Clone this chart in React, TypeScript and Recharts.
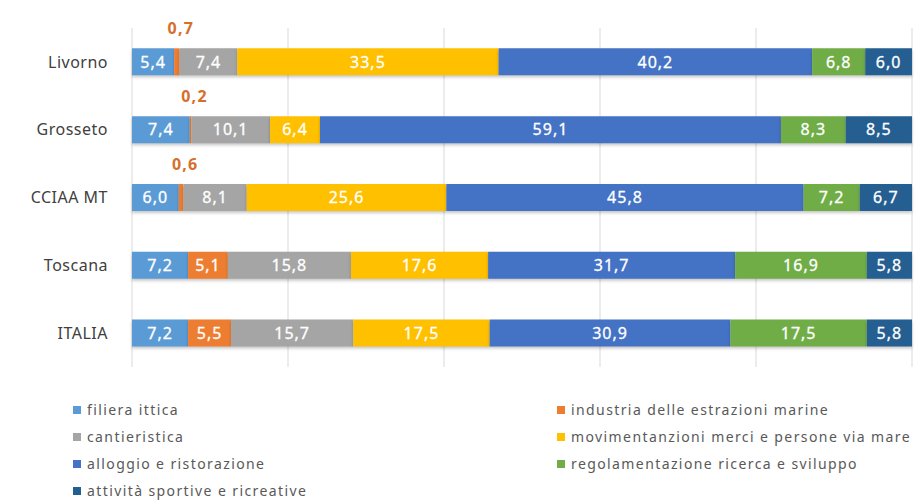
import React from 'react';
import { BarChart, Bar, XAxis, YAxis, CartesianGrid, LabelList } from 'recharts';

const categories = ['Livorno', 'Grosseto', 'CCIAA MT', 'Toscana', 'ITALIA'];
const filieraIttica = [5.4, 7.4, 6.0, 7.2, 7.2];
const industriaEstrazioni = [0.7, 0.2, 0.6, 5.1, 5.5];
const cantieristica = [7.4, 10.1, 8.1, 15.8, 15.7];
const movimentazioni = [33.5, 6.4, 25.6, 17.6, 17.5];
const alloggio = [40.2, 59.1, 45.8, 31.7, 30.9];
const regolamentazione = [6.8, 8.3, 7.2, 16.9, 17.5];
const attivita = [6.0, 8.5, 6.7, 5.8, 5.8];
const xTicks = [0, 0.2, 0.4, 0.6, 0.8, 1];

const series = [
  { key: 'filiera', name: 'filiera ittica', color: '#5B9BD5', values: filieraIttica },
  { key: 'industria', name: 'industria delle estrazioni marine', color: '#ED7D31', values: industriaEstrazioni },
  { key: 'cantieristica', name: 'cantieristica', color: '#A5A5A5', values: cantieristica },
  { key: 'movimentazioni', name: 'movimentanzioni merci e persone via mare', color: '#FFC000', values: movimentazioni },
  { key: 'alloggio', name: 'alloggio e ristorazione', color: '#4472C4', values: alloggio },
  { key: 'regolamentazione', name: 'regolamentazione ricerca e sviluppo', color: '#70AD47', values: regolamentazione },
  { key: 'attivita', name: 'attività sportive e ricreative', color: '#255E91', values: attivita },
];

const data = categories.map((name, i) => {
  const row: any = { name };
  series.forEach((s) => {
    row[s.key] = s.values[i];
  });
  return row;
});

const FONT = '"Noto Sans", "DejaVu Sans", sans-serif';

const fmt = (v: number) => v.toFixed(1).replace('.', ',');

const renderLabel = (props: any) => {
  const { x, y, width, height, value } = props;
  const v = Number(value);
  if (v < 1) {
    return (
      <text
        x={x + width / 2 + 4}
        y={y - 14}
        textAnchor="middle"
        fill="#D5702C"
        fontSize={16}
        fontWeight="bold"
        fontFamily={FONT}
        letterSpacing={1.2}
      >
        {fmt(v)}
      </text>
    );
  }
  return (
    <text
      x={x + width / 2}
      y={y + height / 2}
      dy="0.36em"
      textAnchor="middle"
      fill="#FFFFFF"
      fontSize={16}
      fontFamily={FONT}
      letterSpacing={1}
      stroke="#FFFFFF"
      strokeWidth={0.3}
    >
      {fmt(v)}
    </text>
  );
};

const leftLegend = [0, 2, 4, 6];
const rightLegend = [1, 3, 5];

const LegendItem = ({ idx, left, top }: { idx: number; left: number; top: number }) => {
  const s = series[idx];
  return (
    <div
      style={{
        position: 'absolute',
        left,
        top,
        display: 'flex',
        alignItems: 'center',
        fontFamily: FONT,
        fontSize: 14,
        color: '#595959',
        letterSpacing: 1.4,
        whiteSpace: 'nowrap',
        lineHeight: '18px',
      }}
    >
      <span style={{ display: 'inline-block', width: 8, height: 8, background: s.color, marginRight: 6 }} />
      {s.name}
    </div>
  );
};

export default function App() {
  return (
    <div style={{ position: 'absolute', left: 0, top: 0, width: 921, height: 500, background: '#fff' }}>
      <style>{`.recharts-bar-rectangle path { filter: drop-shadow(0px 2px 1.5px rgba(0,0,0,0.22)); }`}</style>
      <BarChart
        width={921}
        height={500}
        data={data}
        layout="vertical"
        stackOffset="expand"
        barCategoryGap="30%"
        margin={{ top: 28, right: 9, bottom: 133, left: 0 }}
      >
        <CartesianGrid horizontal={false} stroke="#D9D9D9" />
        <XAxis type="number" hide domain={[0, 1]} ticks={xTicks} />
        <YAxis
          type="category"
          dataKey="name"
          width={132}
          tickSize={0}
          tickMargin={24}
          axisLine={false}
          tickLine={false}
          tick={{ fill: '#404040', fontSize: 16, fontFamily: FONT, letterSpacing: 0.5 }}
        />
        {series.map((s) => (
          <Bar key={s.key} dataKey={s.key} name={s.name} stackId="a" fill={s.color} isAnimationActive={false}>
            <LabelList dataKey={s.key} content={renderLabel} />
          </Bar>
        ))}
      </BarChart>
      {leftLegend.map((idx, i) => (
        <LegendItem key={idx} idx={idx} left={73} top={401 + i * 27} />
      ))}
      {rightLegend.map((idx, i) => (
        <LegendItem key={idx} idx={idx} left={557} top={401 + i * 27} />
      ))}
    </div>
  );
}
